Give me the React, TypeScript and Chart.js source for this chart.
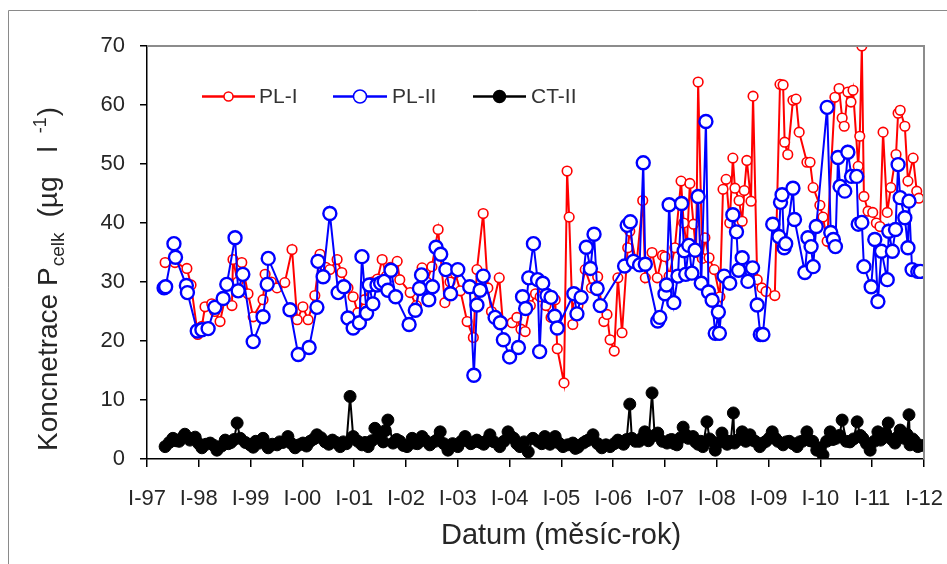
import React, { useEffect, useRef } from 'react';
import { Chart, registerables } from 'chart.js';

Chart.register(...registerables);

const yearTickLabels = ['I-97', 'I-98', 'I-99', 'I-00', 'I-01', 'I-02', 'I-03', 'I-04', 'I-05', 'I-06', 'I-07', 'I-08', 'I-09', 'I-10', 'I-11', 'I-12'];
const firstYear = 1997;
const lastYear = 2012;

const plIDates = [
  1997.35, 1997.54, 1997.77, 1997.85, 1997.98, 1998.06, 1998.12, 1998.25, 1998.31, 1998.41, 1998.5, 1998.64, 1998.66, 1998.75, 1998.83, 1998.95,
  1999.05, 1999.24, 1999.28, 1999.4, 1999.51, 1999.66, 1999.8, 1999.9, 2000.01, 2000.11, 2000.24, 2000.34, 2000.45, 2000.53, 2000.67, 2000.76,
  2000.88, 2000.98, 2001.07, 2001.2, 2001.35, 2001.45, 2001.54, 2001.62, 2001.7, 2001.83, 2001.88, 2002.08, 2002.2, 2002.31, 2002.4, 2002.5,
  2002.62, 2002.75, 2002.85, 2002.95, 2003.05, 2003.18, 2003.3, 2003.37, 2003.49, 2003.58, 2003.65, 2003.8, 2003.87, 2004.05, 2004.14, 2004.22,
  2004.3, 2004.4, 2004.5, 2004.59, 2004.7, 2004.8, 2004.88, 2004.92, 2005.05, 2005.11, 2005.15, 2005.22, 2005.32, 2005.46, 2005.58, 2005.7,
  2005.82, 2005.88, 2005.94, 2006.02, 2006.09, 2006.17, 2006.28, 2006.32, 2006.45, 2006.57, 2006.62, 2006.75, 2006.85, 2006.95, 2007.0, 2007.08,
  2007.19, 2007.31, 2007.36, 2007.42, 2007.48, 2007.55, 2007.6, 2007.64, 2007.72, 2007.77, 2007.85, 2007.95, 2008.06, 2008.12, 2008.18, 2008.25,
  2008.31, 2008.35, 2008.43, 2008.49, 2008.53, 2008.58, 2008.66, 2008.7, 2008.78, 2008.87, 2008.95, 2009.12, 2009.22, 2009.28, 2009.31, 2009.37,
  2009.47, 2009.53, 2009.59, 2009.74, 2009.8, 2009.86, 2009.99, 2010.05, 2010.13, 2010.28, 2010.36, 2010.42, 2010.46, 2010.53, 2010.59, 2010.63,
  2010.73, 2010.76, 2010.8, 2010.84, 2010.92, 2011.01, 2011.08, 2011.15, 2011.21, 2011.29, 2011.36, 2011.46, 2011.5, 2011.54, 2011.63, 2011.69,
  2011.79, 2011.86, 2011.9,
];
const plIValues = [
  33.3, 33.3, 32.3, 29.5, 21.1, 22.5, 25.8, 26.3, 25.0, 23.3, 27.0, 26.0, 33.8, 30.0, 33.3, 28.0,
  24.1, 27.0, 31.3, 30.0, 29.0, 29.9, 35.5, 23.6, 25.8, 23.6, 27.7, 34.7, 32.5, 32.1, 33.8, 31.6,
  29.0, 27.5, 24.8, 27.0, 30.0, 30.5, 33.8, 31.0, 32.5, 33.5, 30.4, 28.2, 26.0, 32.4, 30.0, 32.6,
  38.9, 26.5, 30.0, 31.5, 28.5, 23.3, 20.6, 32.1, 41.6, 29.0, 25.0, 30.7, 23.1, 23.1, 24.0, 22.0,
  21.6, 26.0, 28.0, 27.5, 26.0, 24.0, 27.0, 18.7, 12.9, 48.8, 41.0, 22.8, 26.0, 32.1, 29.0, 30.9,
  23.3, 24.5, 20.2, 18.3, 30.7, 21.4, 35.8, 38.6, 33.0, 43.8, 30.7, 35.0, 30.7, 34.5, 34.3, 31.0,
  35.8, 47.1, 40.0, 36.0, 46.7, 39.8, 35.0, 63.9, 34.0, 37.5, 34.1, 32.1, 27.5, 45.7, 47.4, 40.0,
  51.0, 45.9, 43.8, 40.3, 45.5, 50.6, 43.7, 61.5, 30.4, 29.0, 28.4, 27.7, 63.5, 63.4, 53.7, 51.6,
  60.8, 61.0, 55.4, 50.3, 50.3, 46.0, 43.0, 41.0, 36.9, 61.3, 62.8, 57.8, 56.4, 62.2, 60.5, 62.5,
  49.6, 54.7, 70.0, 44.5, 42.0, 41.8, 40.0, 39.4, 55.4, 41.8, 46.0, 51.6, 58.6, 59.1, 56.4, 47.1,
  51.0, 45.4, 44.2,
];

const plIIDates = [
  1997.33, 1997.36, 1997.52, 1997.55, 1997.76, 1997.78, 1997.97, 1998.06, 1998.18, 1998.31, 1998.47, 1998.54, 1998.7, 1998.76, 1998.85, 1999.05,
  1999.24, 1999.32, 1999.34, 1999.76, 1999.92, 2000.13, 2000.28, 2000.3, 2000.4, 2000.53, 2000.69, 2000.8, 2000.88, 2000.98, 2001.1, 2001.15,
  2001.24, 2001.29, 2001.36, 2001.44, 2001.51, 2001.58, 2001.65, 2001.71, 2001.8, 2002.06, 2002.18, 2002.26, 2002.3, 2002.44, 2002.51, 2002.58,
  2002.67, 2002.77, 2002.86, 2003.0, 2003.23, 2003.31, 2003.37, 2003.43, 2003.49, 2003.72, 2003.82, 2003.88, 2004.0, 2004.17, 2004.25, 2004.31,
  2004.37, 2004.46, 2004.54, 2004.58, 2004.64, 2004.72, 2004.8, 2004.87, 2004.92, 2005.24, 2005.3, 2005.38, 2005.48, 2005.56, 2005.63, 2005.69,
  2005.75, 2006.22, 2006.27, 2006.33, 2006.39, 2006.51, 2006.58, 2006.62, 2006.86, 2006.9, 2007.0, 2007.03, 2007.08, 2007.17, 2007.25, 2007.32,
  2007.37, 2007.4, 2007.46, 2007.52, 2007.58, 2007.64, 2007.7, 2007.79, 2007.84, 2007.91, 2007.97, 2008.03, 2008.05, 2008.14, 2008.25, 2008.31,
  2008.38, 2008.42, 2008.49, 2008.6, 2008.69, 2008.78, 2008.84, 2008.89, 2009.08, 2009.2, 2009.23, 2009.26, 2009.3, 2009.33, 2009.47, 2009.5,
  2009.7, 2009.76, 2009.82, 2009.86, 2009.92, 2010.13, 2010.2, 2010.25, 2010.29, 2010.34, 2010.38, 2010.47, 2010.53, 2010.6, 2010.7, 2010.73,
  2010.8, 2010.84, 2010.98, 2011.05, 2011.11, 2011.18, 2011.29, 2011.32, 2011.39, 2011.45, 2011.5, 2011.54, 2011.63, 2011.69, 2011.71, 2011.77,
  2011.88, 2011.93,
];
const plIIValues = [
  29.0, 29.2, 36.5, 34.2, 29.4, 28.2, 21.7, 21.9, 22.1, 25.7, 27.2, 29.6, 37.5, 28.5, 31.3, 19.9,
  24.1, 29.6, 34.0, 25.3, 17.7, 18.9, 25.7, 33.5, 30.9, 41.6, 28.2, 29.2, 23.9, 22.2, 23.1, 34.3,
  24.7, 29.5, 26.3, 29.5, 29.8, 30.1, 28.6, 32.0, 27.5, 22.8, 25.2, 28.9, 31.2, 27.0, 29.2, 35.9,
  34.7, 32.1, 28.0, 32.1, 29.2, 14.2, 26.1, 28.6, 31.0, 24.0, 23.1, 20.2, 17.3, 18.9, 27.5, 25.5,
  30.7, 36.5, 30.4, 18.2, 29.8, 27.7, 27.4, 24.2, 22.2, 28.0, 24.6, 27.4, 35.9, 32.3, 38.1, 28.9,
  26.0, 32.7, 39.6, 40.2, 33.5, 32.9, 50.2, 33.0, 23.4, 24.0, 28.0, 29.5, 43.1, 26.5, 31.0, 43.3,
  35.3, 31.3, 36.2, 31.5, 35.4, 44.5, 29.8, 57.2, 28.3, 26.9, 21.3, 24.9, 21.3, 31.0, 29.8, 41.4,
  38.5, 32.0, 34.1, 30.1, 32.4, 26.1, 21.1, 21.1, 39.8, 37.7, 43.5, 44.8, 35.8, 36.5, 45.9, 40.6,
  31.6, 37.5, 36.0, 32.6, 39.4, 59.6, 38.4, 37.2, 36.0, 51.1, 46.2, 45.4, 52.0, 47.9, 47.9, 39.8,
  40.1, 32.6, 29.2, 37.2, 26.7, 35.2, 30.4, 38.6, 35.2, 38.9, 49.9, 44.3, 40.9, 35.8, 43.7, 32.1,
  31.8, 31.8,
];

const ctIIDates = [
  1997.35, 1997.43, 1997.5, 1997.56, 1997.62, 1997.68, 1997.73, 1997.83, 1997.93, 1998.0, 1998.06, 1998.14, 1998.22, 1998.29, 1998.35, 1998.44,
  1998.51, 1998.57, 1998.62, 1998.68, 1998.74, 1998.8, 1998.9, 1998.99, 1999.05, 1999.1, 1999.17, 1999.24, 1999.34, 1999.42, 1999.51, 1999.56,
  1999.62, 1999.72, 1999.79, 1999.86, 1999.94, 2000.01, 2000.08, 2000.15, 2000.22, 2000.28, 2000.36, 2000.44, 2000.51, 2000.58, 2000.65, 2000.73,
  2000.79, 2000.85, 2000.92, 2000.98, 2001.07, 2001.15, 2001.21, 2001.27, 2001.34, 2001.4, 2001.48, 2001.56, 2001.6, 2001.65, 2001.75, 2001.82,
  2001.88, 2001.95, 2002.02, 2002.12, 2002.17, 2002.22, 2002.31, 2002.38, 2002.46, 2002.56, 2002.62, 2002.66, 2002.73, 2002.81, 2002.9, 2003.0,
  2003.07, 2003.14, 2003.25, 2003.31, 2003.37, 2003.44, 2003.5, 2003.56, 2003.62, 2003.7, 2003.81, 2003.89, 2003.97, 2004.03, 2004.08, 2004.14,
  2004.2, 2004.28, 2004.36, 2004.45, 2004.55, 2004.62, 2004.68, 2004.78, 2004.83, 2004.88, 2004.95, 2005.03, 2005.12, 2005.22, 2005.27, 2005.32,
  2005.42, 2005.47, 2005.52, 2005.61, 2005.7, 2005.78, 2005.86, 2005.94, 2006.02, 2006.09, 2006.15, 2006.2, 2006.26, 2006.32, 2006.36, 2006.43,
  2006.5, 2006.56, 2006.61, 2006.68, 2006.75, 2006.8, 2006.86, 2006.95, 2007.04, 2007.09, 2007.13, 2007.18, 2007.23, 2007.3, 2007.35, 2007.4,
  2007.45, 2007.54, 2007.59, 2007.64, 2007.69, 2007.73, 2007.81, 2007.86, 2007.9, 2007.97, 2008.04, 2008.1, 2008.16, 2008.2, 2008.27, 2008.32,
  2008.34, 2008.42, 2008.49, 2008.56, 2008.64, 2008.69, 2008.74, 2008.83, 2008.89, 2008.95, 2009.02, 2009.07, 2009.13, 2009.18, 2009.28, 2009.34,
  2009.4, 2009.47, 2009.55, 2009.6, 2009.65, 2009.74, 2009.8, 2009.85, 2009.93, 2010.0, 2010.05, 2010.12, 2010.19, 2010.24, 2010.3, 2010.37,
  2010.42, 2010.5, 2010.57, 2010.64, 2010.71, 2010.77, 2010.82, 2010.89, 2010.96, 2011.04, 2011.11, 2011.16, 2011.2, 2011.26, 2011.31, 2011.38,
  2011.44, 2011.5, 2011.54, 2011.62, 2011.67, 2011.71, 2011.73, 2011.78, 2011.82, 2011.88, 2011.95,
];
const ctIIValues = [
  2.1, 2.8, 3.5, 3.1, 3.0, 3.6, 4.2, 3.2, 3.7, 2.6, 1.9, 2.5, 2.7, 2.3, 1.5, 2.2,
  3.2, 2.6, 2.8, 3.3, 6.1, 3.5, 2.8, 2.4, 2.0, 3.0, 2.7, 3.5, 1.9, 2.5, 2.4, 2.9,
  2.8, 3.8, 2.6, 1.9, 2.4, 2.7, 2.2, 3.0, 3.4, 4.1, 3.6, 2.9, 2.5, 3.2, 2.8, 2.1,
  2.9, 2.6, 10.6, 3.8, 3.0, 2.4, 2.8, 2.1, 3.1, 5.2, 4.0, 2.9, 4.8, 6.6, 2.7, 3.3,
  3.0, 2.3, 2.1, 3.5, 2.7, 2.6, 3.8, 3.1, 2.4, 3.0, 3.4, 4.6, 2.6, 1.5, 2.6, 2.1,
  3.0, 3.8, 2.6, 2.9, 3.2, 2.8, 2.5, 3.1, 4.1, 2.9, 2.1, 3.0, 4.6, 3.8, 3.5, 2.6,
  2.1, 2.9, 1.2, 3.5, 3.0, 2.6, 3.8, 2.5, 3.2, 3.8, 2.7, 2.1, 2.4, 2.7, 1.8, 2.0,
  2.7, 3.0, 3.2, 4.1, 2.6, 1.9, 2.4, 2.1, 2.6, 3.2, 2.8, 2.5, 3.3, 9.3, 3.5, 3.0,
  3.0, 3.6, 4.6, 3.1, 11.2, 4.0, 4.4, 3.0, 2.7, 3.2, 3.3, 2.6, 2.4, 3.6, 5.4, 4.1,
  3.5, 3.8, 2.9, 2.5, 3.0, 2.1, 6.3, 3.4, 3.0, 1.5, 2.8, 4.4, 3.2, 2.5, 3.0, 7.8,
  2.7, 3.3, 4.6, 3.0, 4.1, 3.2, 3.0, 2.1, 2.7, 3.0, 3.6, 4.6, 3.5, 3.0, 2.4, 2.9,
  3.0, 2.6, 2.1, 2.9, 3.0, 4.6, 3.1, 3.0, 1.5, 1.9, 0.7, 3.0, 4.6, 3.3, 3.5, 4.0,
  6.6, 3.0, 2.9, 3.4, 6.3, 4.0, 3.5, 2.6, 1.5, 3.0, 4.6, 3.2, 3.5, 4.4, 6.1, 3.3,
  2.7, 3.8, 4.9, 3.5, 4.2, 7.5, 2.4, 3.4, 3.0, 2.1, 2.3,
];

const FONT = '"Liberation Sans", Arial, sans-serif';
const TEXT = '#262626';

const toPoints = (xs: number[], ys: number[]) => xs.map((x, i) => ({ x, y: ys[i] }));

const decorPlugin = {
  id: 'decor',
  beforeDraw(chart: any) {
    const ctx = chart.ctx;
    ctx.save();
    ctx.fillStyle = '#ffffff';
    ctx.fillRect(0, 0, chart.width, chart.height);
    ctx.strokeStyle = '#8a8a8a';
    ctx.lineWidth = 1;
    ctx.beginPath();
    ctx.moveTo(8.5, chart.height);
    ctx.lineTo(8.5, 10.5);
    ctx.lineTo(chart.width, 10.5);
    ctx.stroke();
    ctx.restore();
  },
  afterDraw(chart: any) {
    const ctx = chart.ctx;
    const a = chart.chartArea;
    ctx.save();
    ctx.strokeStyle = '#8c8c8c';
    ctx.lineWidth = 2;
    ctx.beginPath();
    ctx.moveTo(a.left, a.top);
    ctx.lineTo(a.right, a.top);
    ctx.lineTo(a.right, a.bottom);
    ctx.stroke();

    ctx.fillStyle = TEXT;
    ctx.font = `29px ${FONT}`;
    ctx.textAlign = 'center';
    ctx.textBaseline = 'middle';
    ctx.fillText('Datum (měsíc-rok)', 561, 536);

    const parts = [
      { t: 'Koncnetrace P', s: 28, dy: 0, gap: 0 },
      { t: 'celk', s: 19, dy: 7, gap: 1 },
      { t: '(µg', s: 28, dy: 0, gap: 15 },
      { t: 'l', s: 28, dy: 0, gap: 24 },
      { t: '-1', s: 18, dy: -11, gap: 13 },
      { t: ')', s: 28, dy: 0, gap: 1 },
    ];
    let total = 0;
    const widths = parts.map((p) => {
      ctx.font = `${p.s}px ${FONT}`;
      const w = ctx.measureText(p.t).width;
      total += w + p.gap;
      return w;
    });
    ctx.translate(47, 279);
    ctx.rotate(-Math.PI / 2);
    ctx.textAlign = 'left';
    ctx.textBaseline = 'alphabetic';
    let xPos = -total / 2;
    parts.forEach((p, i) => {
      xPos += p.gap;
      ctx.font = `${p.s}px ${FONT}`;
      ctx.fillText(p.t, xPos, 10 + p.dy);
      xPos += widths[i];
    });
    ctx.restore();

    ctx.save();
    const items = [
      { label: 'PL-I', color: '#ff0000', fill: '#ffffff', r: 4.5, bw: 1.5, x1: 202, x2: 255, tx: 259 },
      { label: 'PL-II', color: '#0000ff', fill: '#ffffff', r: 6.5, bw: 1.5, x1: 333, x2: 387, tx: 392 },
      { label: 'CT-II', color: '#000000', fill: '#000000', r: 6, bw: 1.5, x1: 473, x2: 526, tx: 531 },
    ];
    const ly = 96.5;
    items.forEach((it) => {
      ctx.strokeStyle = it.color;
      ctx.lineWidth = 2.5;
      ctx.beginPath();
      ctx.moveTo(it.x1, ly);
      ctx.lineTo(it.x2, ly);
      ctx.stroke();
      ctx.beginPath();
      ctx.arc((it.x1 + it.x2) / 2, ly, it.r, 0, Math.PI * 2);
      ctx.fillStyle = it.fill;
      ctx.fill();
      ctx.lineWidth = it.bw;
      ctx.stroke();
      ctx.fillStyle = '#333333';
      ctx.font = `21px ${FONT}`;
      ctx.textAlign = 'left';
      ctx.textBaseline = 'middle';
      ctx.fillText(it.label, it.tx, ly + 1);
    });
    ctx.restore();
  },
};

export default function App() {
  const canvasRef = useRef<HTMLCanvasElement>(null);

  useEffect(() => {
    if (!canvasRef.current) return;
    const chart = new Chart(canvasRef.current, {
      type: 'line',
      data: {
        datasets: [
          {
            label: 'PL-I',
            data: toPoints(plIDates, plIValues),
            borderColor: '#ff0000',
            backgroundColor: '#ffffff',
            borderWidth: 2,
            pointRadius: 4.8,
            pointBorderWidth: 1.6,
            pointBackgroundColor: '#ffffff',
            pointBorderColor: '#ff0000',
            tension: 0,
            order: 2,
          },
          {
            label: 'PL-II',
            data: toPoints(plIIDates, plIIValues),
            borderColor: '#0000ff',
            backgroundColor: '#ffffff',
            borderWidth: 2,
            pointRadius: 6.5,
            pointBorderWidth: 2.4,
            pointBackgroundColor: '#ffffff',
            pointBorderColor: '#0000ff',
            tension: 0,
            order: 1,
          },
          {
            label: 'CT-II',
            data: toPoints(ctIIDates, ctIIValues),
            borderColor: '#000000',
            backgroundColor: '#000000',
            borderWidth: 2,
            pointRadius: 6,
            pointBorderWidth: 1,
            pointBackgroundColor: '#000000',
            pointBorderColor: '#000000',
            tension: 0,
            order: 3,
          },
        ],
      },
      options: {
        responsive: false,
        animation: false,
        layout: { padding: { top: 46, right: 23, left: 0, bottom: 0 } },
        plugins: {
          legend: { display: false },
          tooltip: { enabled: false },
        },
        scales: {
          x: {
            type: 'linear',
            min: firstYear,
            max: lastYear,
            afterFit: (s: any) => {
              s.height = 105;
              s.paddingLeft = 0;
              s.paddingRight = 0;
            },
            afterBuildTicks: (s: any) => {
              s.ticks = yearTickLabels.map((_, i) => ({ value: firstYear + i }));
            },
            ticks: {
              autoSkip: false,
              maxRotation: 0,
              padding: 19,
              color: TEXT,
              font: { family: FONT, size: 22 },
              callback: (v: any) => yearTickLabels[Math.round(Number(v) - firstYear)],
            },
            grid: { drawOnChartArea: false, drawTicks: true, tickLength: 8, color: '#000000', lineWidth: 1.5 },
            border: { color: '#000000', width: 1.5 },
          },
          y: {
            min: 0,
            max: 70,
            afterFit: (s: any) => {
              s.width = 147;
              s.paddingTop = 0;
              s.paddingBottom = 0;
            },
            ticks: {
              stepSize: 10,
              padding: 15,
              color: TEXT,
              font: { family: FONT, size: 22 },
            },
            grid: { drawOnChartArea: false, drawTicks: true, tickLength: 7, color: '#000000', lineWidth: 1.5 },
            border: { color: '#000000', width: 1.5 },
          },
        },
      },
      plugins: [decorPlugin],
    });
    return () => chart.destroy();
  }, []);

  return (
    <div style={{ position: 'fixed', left: 0, top: 0, width: 947, height: 564, background: '#fff' }}>
      <canvas ref={canvasRef} width={947} height={564} style={{ display: 'block', width: 947, height: 564 }} />
    </div>
  );
}
